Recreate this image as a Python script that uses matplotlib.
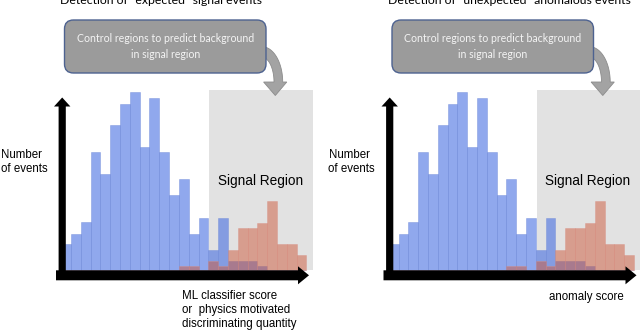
import numpy as np
import matplotlib
matplotlib.use("Agg")
import matplotlib.pyplot as plt
from matplotlib.patches import FancyBboxPatch, Polygon

# ---------------- data ----------------
bin_index = np.arange(25)
background_counts = [26, 36, 48, 118, 96, 145, 166, 178, 123, 172, 118, 75, 91,
                     36, 52, 20, 52, 9, 9, 9, 4, 0, 0, 0, 0]
signal_counts = [0, 0, 0, 0, 0, 0, 0, 0, 0, 0, 0, 0, 4,
                 4, 0, 9, 4, 20, 42, 42, 47, 69, 26, 26, 15]
signal_region_start = 15.1
titles = ['Detection of "expected" signal events',
          'Detection of "unexpected" anomalous events']
xlabels = ['ML classifier score\nor  physics motivated\ndiscriminating quantity',
           'anomaly score']
ylabel = 'Number\nof events'
callout_text = 'Control regions to predict background\nin signal region'
region_label = 'Signal Region'

# ---------------- layout (pixels) ----------------
W, H = 640, 331
DPI = 100
panel_dx = [0.0, 327.5]
bin_left, bin_w = 61.2, 9.81
base_y, top_y, right_x = 270.0, 90.0, 313.0

BLUE = (70/255, 110/255, 225/255)
RED = (205/255, 90/255, 60/255)
GREY_REGION = '#e2e2e2'

fig = plt.figure(figsize=(W/DPI, H/DPI), dpi=DPI)
fig.patch.set_facecolor('white')

nbins_span = (right_x - bin_left) / bin_w
for p in range(2):
    dx = panel_dx[p]
    ax = fig.add_axes([(bin_left + dx)/W, (H - base_y)/H,
                       (right_x - bin_left)/W, (base_y - top_y)/H])
    ax.set_xlim(0, nbins_span)
    ax.set_ylim(0, base_y - top_y)
    ax.axis('off')
    ax.axvspan(signal_region_start, nbins_span, color=GREY_REGION, zorder=0, lw=0)
    ax.bar(bin_index, background_counts, width=1.0, align='edge',
           color=BLUE, alpha=0.6, edgecolor=(0.45, 0.55, 0.85, 0.5), linewidth=0.5,
           zorder=1, clip_on=False)
    ax.bar(bin_index, signal_counts, width=1.0, align='edge',
           color=RED, alpha=0.5, edgecolor=(0.85, 0.55, 0.5, 0.4), linewidth=0.5,
           zorder=2, clip_on=False)

# overlay in pixel coordinates for annotations
ov = fig.add_axes([0, 0, 1, 1])
ov.set_xlim(0, W)
ov.set_ylim(H, 0)
ov.axis('off')

lab_font = ['Liberation Sans', 'DejaVu Sans']
cal_font = ['Lato', 'DejaVu Sans']

for p in range(2):
    dx = panel_dx[p]
    # y axis arrow
    yax = Polygon([(58.6+dx, 280), (58.6+dx, 106.5), (54.0+dx, 106.5), (62.2+dx, 97.5),
                   (70.4+dx, 106.5), (65.8+dx, 106.5), (65.8+dx, 280)],
                  closed=True, facecolor='black', edgecolor='none', zorder=5)
    ov.add_patch(yax)
    # x axis arrow
    xax = Polygon([(56+dx, 270.3), (298+dx, 270.3), (298+dx, 266.3), (309+dx, 275.3),
                   (298+dx, 284.3), (298+dx, 280.3), (56+dx, 280.3)],
                  closed=True, facecolor='black', edgecolor='none', zorder=5)
    ov.add_patch(xax)

    # curved arrow from callout to signal region
    cx, cy = 262 + dx, 82.0
    t = np.linspace(np.pi/2, 0, 30)
    outer = np.column_stack([cx + 20.7*np.cos(t), cy - 35.3*np.sin(t)])
    inner = np.column_stack([cx + 12.0*np.cos(t), cy - 24.7*np.sin(t)])[::-1]
    head = np.array([[286.8+dx, cy], [275.3+dx, 95.5], [263.6+dx, cy]])
    pts = np.vstack([outer, head, inner])
    ov.add_patch(Polygon(pts, closed=True, facecolor='#a3a3a3', edgecolor='#8c8c8c',
                         lw=0.6, zorder=3))

    # callout box
    box = FancyBboxPatch((64.5+dx, 20), 201.5, 53,
                         boxstyle='round,pad=0,rounding_size=9',
                         facecolor='#9b9b9b', edgecolor='#4d6290', lw=1.0, zorder=4)
    ov.add_patch(box)
    ov.text(165.5+dx, 46.5, callout_text, ha='center', va='center',
            color='#f4f4f4', fontsize=7.6, family=cal_font, linespacing=1.45, zorder=6)

    # title (cut at top)
    ov.text(60+dx, 3.6, titles[p], ha='left', va='baseline', fontsize=8.8,
            family=cal_font, color='black', clip_on=False)

    # y label
    ov.text(1+dx, 162, ylabel, ha='left', va='center', fontsize=8.3,
            family=lab_font, linespacing=1.25)

    # signal region label
    ov.text(260.5+dx, 181, region_label, ha='center', va='center', fontsize=9.8,
            family=lab_font, zorder=6)

# x labels
ov.text(181.5, 290, xlabels[0], ha='left', va='top', fontsize=8.3,
        family=lab_font, linespacing=1.25)
ov.text(549 + 0, 297, xlabels[1], ha='left', va='center', fontsize=8.3,
        family=lab_font)

fig.savefig('out.png', dpi=DPI)
